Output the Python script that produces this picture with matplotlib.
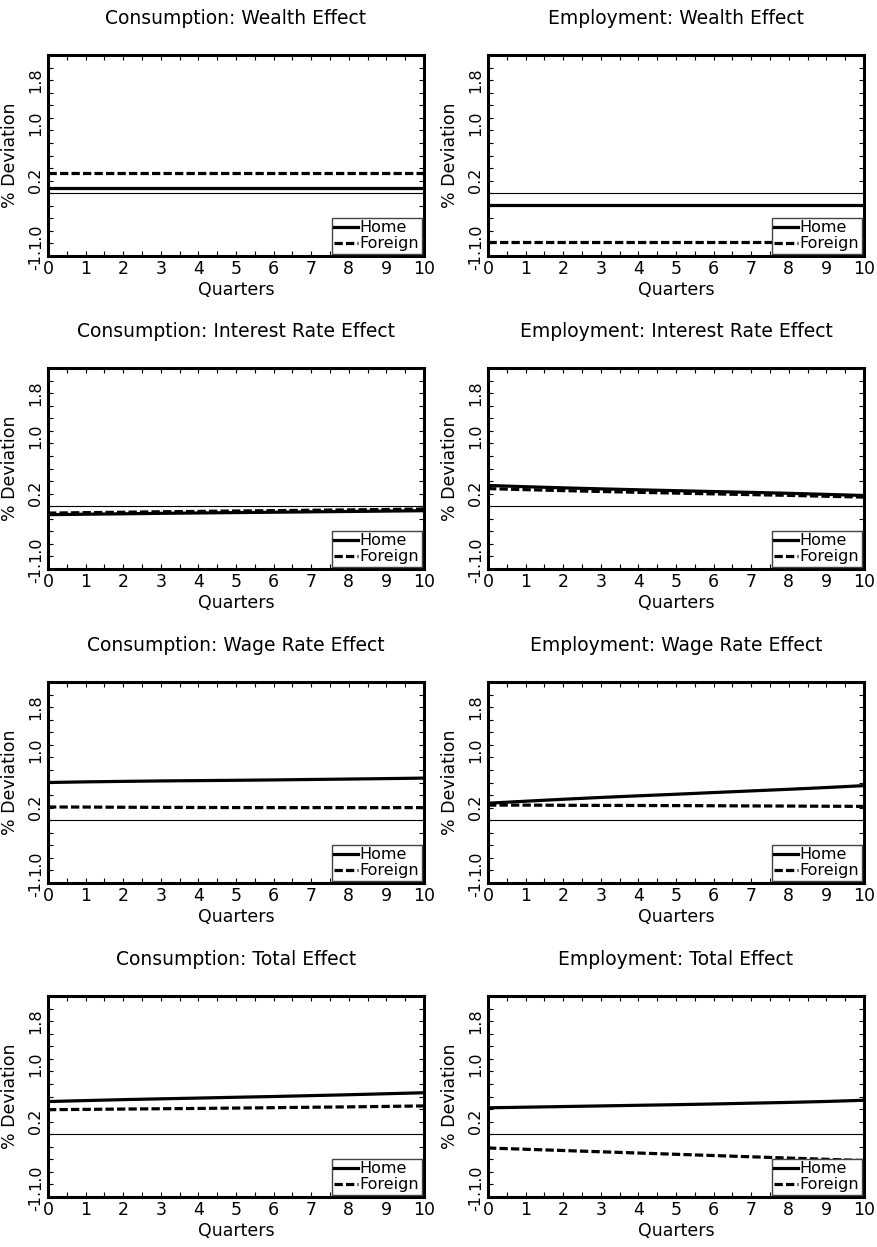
import numpy as np
import matplotlib.pyplot as plt

quarters = [0, 1, 2, 3, 4, 5, 6, 7, 8, 9, 10]

titles = [
    "Consumption: Wealth Effect", "Employment: Wealth Effect",
    "Consumption: Interest Rate Effect", "Employment: Interest Rate Effect",
    "Consumption: Wage Rate Effect", "Employment: Wage Rate Effect",
    "Consumption: Total Effect", "Employment: Total Effect",
]

# home / foreign responses, % deviation
c_wealth_home = [0.075] * 11
c_wealth_foreign = [0.315] * 11
e_wealth_home = [-0.19] * 11
e_wealth_foreign = [-0.77] * 11

c_interest_home = [-0.135, -0.128, -0.121, -0.114, -0.108, -0.102, -0.096, -0.090, -0.084, -0.078, -0.072]
c_interest_foreign = [-0.110, -0.103, -0.096, -0.089, -0.083, -0.077, -0.071, -0.065, -0.059, -0.052, -0.045]
e_interest_home = [0.330, 0.310, 0.292, 0.276, 0.261, 0.247, 0.233, 0.220, 0.205, 0.188, 0.170]
e_interest_foreign = [0.280, 0.263, 0.248, 0.234, 0.221, 0.208, 0.196, 0.184, 0.172, 0.158, 0.145]

c_wage_home = [0.600, 0.610, 0.618, 0.625, 0.630, 0.635, 0.641, 0.648, 0.655, 0.662, 0.670]
c_wage_foreign = [0.210, 0.209, 0.206, 0.204, 0.202, 0.201, 0.200, 0.200, 0.200, 0.200, 0.200]
e_wage_home = [0.270, 0.302, 0.333, 0.362, 0.388, 0.413, 0.440, 0.466, 0.492, 0.520, 0.550]
e_wage_foreign = [0.240, 0.240, 0.237, 0.235, 0.234, 0.232, 0.230, 0.227, 0.225, 0.222, 0.220]

c_total_home = [0.520, 0.535, 0.550, 0.563, 0.575, 0.588, 0.600, 0.614, 0.628, 0.644, 0.660]
c_total_foreign = [0.390, 0.395, 0.400, 0.405, 0.410, 0.416, 0.422, 0.429, 0.435, 0.442, 0.450]
e_total_home = [0.420, 0.430, 0.440, 0.450, 0.460, 0.470, 0.481, 0.494, 0.506, 0.521, 0.540]
e_total_foreign = [-0.220, -0.240, -0.260, -0.280, -0.300, -0.320, -0.340, -0.360, -0.380, -0.400, -0.420]

home = [c_wealth_home, e_wealth_home, c_interest_home, e_interest_home,
        c_wage_home, e_wage_home, c_total_home, e_total_home]
foreign = [c_wealth_foreign, e_wealth_foreign, c_interest_foreign, e_interest_foreign,
           c_wage_foreign, e_wage_foreign, c_total_foreign, e_total_foreign]

# the odd overlapping y labels the original plot shows
ytick_text = ["1.8", "1.0", "0.2", "1.0", "-1."]
ytick_pos = [1.8, 1.12, 0.2, -0.68, -1.06]
xtick_text = ["0", "1", "2", "3", "4", "5", "6", "7", "8", "9", "10"]


def main():
    W, H = 878, 1247
    fig = plt.figure(figsize=(W / 100, H / 100), dpi=100)
    lefts = [48, 488]
    tops = [55, 368, 682, 996]
    aw, ah = 376, 201

    for i in range(8):
        r, c = i // 2, i % 2
        ax = fig.add_axes([lefts[c] / W, 1 - (tops[r] + ah) / H, aw / W, ah / H])
        ax.axhline(0, color='black', lw=0.8, zorder=1)
        ax.plot(quarters, home[i], color='black', lw=2.3, label='Home', zorder=3)
        ax.plot(quarters, foreign[i], color='black', lw=2.3, ls=(0, (2.6, 1.0)),
                label='Foreign', zorder=3)
        ax.set_xlim(0, 10)
        ax.set_ylim(-1.0, 2.2)
        ax.set_xticks(np.arange(0, 10.01, 0.5))
        ax.set_xticklabels([xtick_text[k // 2] if k % 2 == 0 else '' for k in range(21)],
                           fontsize=12.5)
        ax.set_yticks(np.arange(-1.0, 2.21, 0.2))
        ax.set_yticklabels([])
        ax.tick_params(direction='in', length=3.5, width=0.8, top=True, right=True, pad=3)
        for s in ax.spines.values():
            s.set_linewidth(2.2)
        for t, y in zip(ytick_text, ytick_pos):
            ax.annotate(t, xy=(0, y), xycoords=('axes fraction', 'data'),
                        xytext=(-9, 0), textcoords='offset points',
                        rotation=90, ha='center', va='center', fontsize=11.5,
                        annotation_clip=False)
        ax.set_xlabel('Quarters', fontsize=12.5, labelpad=2)
        ax.set_ylabel('% Deviation', fontsize=12.5)
        ax.yaxis.set_label_coords(-29 / aw, 0.5)
        ax.set_title(titles[i], fontsize=13.5, pad=22)
        leg = ax.legend(loc='lower right', fontsize=11.5, frameon=True, fancybox=False,
                        framealpha=1, edgecolor='#444444', handlelength=1.5,
                        handletextpad=0.1, borderpad=0.15, labelspacing=0.05,
                        borderaxespad=0.15)
        leg.get_frame().set_linewidth(1.0)
        leg.set_zorder(5)

    fig.savefig('out.png', dpi=100)


if __name__ == "__main__":
    main()
